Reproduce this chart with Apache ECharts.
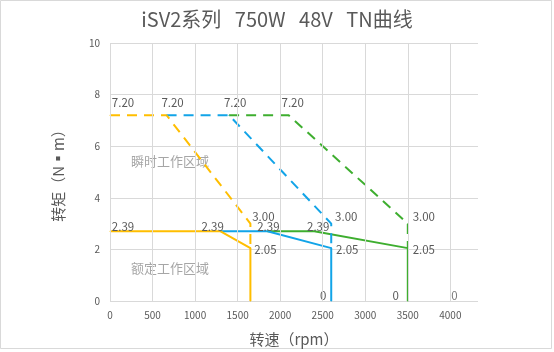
<!DOCTYPE html>
<html>
<head>
<meta charset="utf-8">
<script src="https://cdn.jsdelivr.net/npm/echarts@6/dist/echarts.min.js"></script>
<style>
  html, body { margin: 0; padding: 0; background: #fff; }
  #tn { width: 554px; height: 352px; }
</style>
</head>
<body>
<div id="tn"></div>
<script>
// iSV2 750W 48V 转矩-转速曲线

var yellow_rated_x = [0, 1300, 1650, 1650]
var yellow_rated_y = [2.7, 2.7, 2.05, 0]
var yellow_rated_lbl = ['2.39', '2.39', '2.05', '']

var yellow_peak_x = [0, 665, 1650, 1650]
var yellow_peak_y = [7.2, 7.2, 3.0, 2.05]
var yellow_peak_lbl = ['7.20', '7.20', '3.00', '']

var blue_rated_x = [1300, 1850, 2600, 2600]
var blue_rated_y = [2.7, 2.7, 2.05, 0]
var blue_rated_lbl = ['', '2.39', '2.05', '0']

var blue_peak_x = [665, 1400, 2600, 2600]
var blue_peak_y = [7.2, 7.2, 3.0, 2.05]
var blue_peak_lbl = ['', '7.20', '3.00', '']

var green_rated_x = [1850, 2400, 3500, 3500]
var green_rated_y = [2.7, 2.7, 2.05, 0]
var green_rated_lbl = ['', '2.39', '2.05', '0']

var green_peak_x = [1400, 2100, 3500, 3500]
var green_peak_y = [7.2, 7.2, 3.0, 2.05]
var green_peak_lbl = ['', '7.20', '3.00', '']

var end_x = [4000]
var end_y = [0]
var end_lbl = ['0']

var x_ticks = [0, 500, 1000, 1500, 2000, 2500, 3000, 3500, 4000]

// label offsets (px) for each point, same order as the arrays above
var off_yellow_rated = [[13, -5], [-8, -5], [15, 2], [0, 0]]
var off_yellow_peak = [[13, -13], [6, -13], [13, -7], [0, 0]]
var off_blue_rated = [[0, 0], [1, -5], [16, 2], [-8, -5]]
var off_blue_peak = [[0, 0], [6, -13], [15, -7], [0, 0]]
var off_green_rated = [[0, 0], [4, -5], [16, 2], [-12, -5]]
var off_green_peak = [[0, 0], [4, -13], [16, -7], [0, 0]]
var off_end = [[4, -5]]

var FONT = 'Noto Sans CJK SC'
var TXT = '#595959'

function pts (xs, ys, lbls, offs) {
  var out = []
  for (var i = 0; i < xs.length; i++) {
    out.push({
      value: [xs[i], ys[i]],
      label: {
        show: lbls[i] !== '',
        formatter: lbls[i],
        offset: offs[i]
      }
    })
  }
  return out
}

function curve (name, color, dashed, data) {
  return {
    name: name,
    type: 'line',
    data: data,
    symbol: 'circle',
    symbolSize: 1,
    showSymbol: true,
    silent: true,
    animation: false,
    itemStyle: { color: color },
    lineStyle: { color: color, width: 2, type: dashed ? [10, 7] : 'solid' },
    label: {
      position: 'inside',
      color: TXT,
      fontSize: 11.5,
      fontFamily: FONT
    }
  }
}

var chart = echarts.init(document.getElementById('tn'))

var vlines = []
for (var k in x_ticks) {
  vlines.push({ xAxis: x_ticks[k] })
}

var option = {
  backgroundColor: '#fff',
  title: {
    text: 'iSV2系列   750W   48V   TN曲线',
    left: 'center',
    top: 4,
    textStyle: { fontFamily: FONT, fontSize: 20, fontWeight: 'normal', color: TXT }
  },
  grid: { left: 110, right: 76, top: 43, bottom: 50 },
  xAxis: {
    type: 'value',
    min: 0,
    max: 4325,
    interval: 500,
    name: '转速（rpm）',
    nameLocation: 'middle',
    nameGap: 31,
    nameTextStyle: { fontFamily: FONT, fontSize: 15, color: TXT },
    axisLine: { show: false },
    axisTick: { show: false },
    splitLine: { show: false },
    axisLabel: {
      showMaxLabel: false,
      formatter: function (v) { return String(v) },
      fontFamily: FONT, fontSize: 10, color: TXT, margin: 9
    }
  },
  yAxis: {
    type: 'value',
    min: 0,
    max: 10,
    interval: 2,
    name: '转矩（N▪m）',
    nameLocation: 'middle',
    nameGap: 44,
    nameTextStyle: { fontFamily: FONT, fontSize: 15, color: TXT },
    axisLine: { show: false },
    axisTick: { show: false },
    splitLine: { lineStyle: { color: '#d9d9d9', width: 1 } },
    axisLabel: { fontFamily: FONT, fontSize: 10, color: TXT, margin: 10 }
  },
  graphic: [
    {
      type: 'rect',
      shape: { x: 0.5, y: 0.5, width: 551, height: 348 },
      style: { fill: 'none', stroke: '#d9d9d9', lineWidth: 1 },
      silent: true
    },
    {
      type: 'text',
      left: 131, top: 155,
      style: { text: '瞬时工作区域', fill: '#a6a6a6', fontSize: 13, fontFamily: FONT },
      silent: true
    },
    {
      type: 'text',
      left: 131, top: 262,
      style: { text: '额定工作区域', fill: '#a6a6a6', fontSize: 13, fontFamily: FONT },
      silent: true
    }
  ],
  series: [
    {
      name: 'grid-x',
      type: 'scatter',
      data: pts(end_x, end_y, end_lbl, off_end),
      symbolSize: 0,
      silent: true,
      animation: false,
      z: 1,
      label: { position: 'inside', color: TXT, fontSize: 11.5, fontFamily: FONT },
      markLine: {
        silent: true,
        symbol: 'none',
        animation: false,
        label: { show: false },
        lineStyle: { color: '#d9d9d9', width: 1, type: 'solid' },
        data: vlines
      }
    },
    curve('green-peak', '#3eae2f', true, pts(green_peak_x, green_peak_y, green_peak_lbl, off_green_peak)),
    curve('green-rated', '#3eae2f', false, pts(green_rated_x, green_rated_y, green_rated_lbl, off_green_rated)),
    curve('blue-peak', '#12a4e8', true, pts(blue_peak_x, blue_peak_y, blue_peak_lbl, off_blue_peak)),
    curve('blue-rated', '#12a4e8', false, pts(blue_rated_x, blue_rated_y, blue_rated_lbl, off_blue_rated)),
    curve('yellow-peak', '#ffbe00', true, pts(yellow_peak_x, yellow_peak_y, yellow_peak_lbl, off_yellow_peak)),
    curve('yellow-rated', '#ffbe00', false, pts(yellow_rated_x, yellow_rated_y, yellow_rated_lbl, off_yellow_rated))
  ]
}

chart.setOption(option)
</script>
</body>
</html>
